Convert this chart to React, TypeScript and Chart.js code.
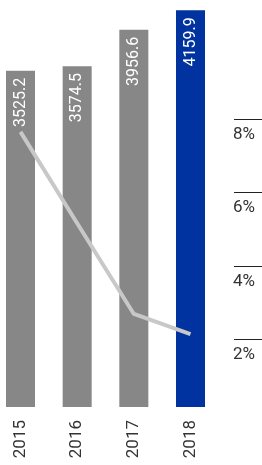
import React, { useEffect, useRef } from "react";
import { Chart, registerables } from "chart.js";

Chart.register(...registerables);

const years = ["2015", "2016", "2017", "2018"];
const revenue = [3525.2, 3574.5, 3956.6, 4159.9];
const revenueLabels = ["3525.2", "3574.5", "3956.6", "4159.9"];
const marginPct = [7.65, 5.16, 2.69, 2.14];
const pctTicks = [8, 6, 4, 2];
const pctTickLabels = ["8%", "6%", "4%", "2%"];
const barColors = ["#878787", "#878787", "#878787", "#0033a0"];

const overlay = {
  id: "overlay",
  afterDatasetsDraw(chart: any) {
    const ctx = chart.ctx;
    const meta = chart.getDatasetMeta(1);
    ctx.save();
    ctx.fillStyle = "#ffffff";
    ctx.font = "16px Roboto";
    meta.data.forEach((bar: any, i: number) => {
      ctx.save();
      ctx.translate(bar.x, bar.y + 7);
      ctx.rotate(-Math.PI / 2);
      ctx.textAlign = "right";
      ctx.textBaseline = "middle";
      ctx.fillText(revenueLabels[i], 0, 0);
      ctx.restore();
    });
    const y1 = chart.scales.y1;
    const left = chart.chartArea.right + 43.5;
    pctTicks.forEach((v, i) => {
      const y = Math.round(y1.getPixelForValue(v)) + 0.5;
      ctx.strokeStyle = "#222222";
      ctx.lineWidth = 1;
      ctx.beginPath();
      ctx.moveTo(left, y);
      ctx.lineTo(chart.width, y);
      ctx.stroke();
      ctx.fillStyle = "#333333";
      ctx.font = "17px Roboto";
      ctx.textAlign = "left";
      ctx.textBaseline = "middle";
      ctx.fillText(pctTickLabels[i], left - 1, y + 15);
    });
    ctx.restore();
  },
};

export default function App() {
  const ref = useRef<HTMLCanvasElement | null>(null);
  useEffect(() => {
    if (!ref.current) return;
    const chart = new Chart(ref.current, {
      type: "bar",
      data: {
        labels: years,
        datasets: [
          {
            type: "line",
            data: marginPct,
            yAxisID: "y1",
            borderColor: "#c8c8c8",
            borderWidth: 4,
            pointRadius: 0,
            tension: 0,
            fill: false,
            clip: false,
            order: 0,
          } as any,
          {
            type: "bar",
            data: revenue,
            yAxisID: "y",
            backgroundColor: barColors,
            categoryPercentage: 1,
            barPercentage: 0.512,
            clip: false,
            order: 1,
          } as any,
        ],
      },
      options: {
        animation: false,
        responsive: true,
        maintainAspectRatio: false,
        layout: { padding: { left: 20.5, right: 71.5, top: 0, bottom: 0 } },
        plugins: { legend: { display: false }, tooltip: { enabled: false } },
        scales: {
          x: {
            offset: false,
            grid: { display: false, drawTicks: false },
            border: { display: false },
            ticks: {
              autoSkip: false,
              minRotation: 90,
              maxRotation: 90,
              padding: 13,
              color: "#333333",
              font: { family: "Roboto", size: 17 },
            },
            afterFit: (s: any) => {
              s.height = 58;
            },
          },
          y: { display: false, min: 0, max: 4268 },
          y1: { display: false, position: "right", min: 0.156, max: 11.24 },
        },
      },
      plugins: [overlay],
    } as any);
    return () => chart.destroy();
  }, []);
  return (
    <div style={{ position: "absolute", left: 0, top: 0, width: 262, height: 465 }}>
      <canvas ref={ref} />
    </div>
  );
}
